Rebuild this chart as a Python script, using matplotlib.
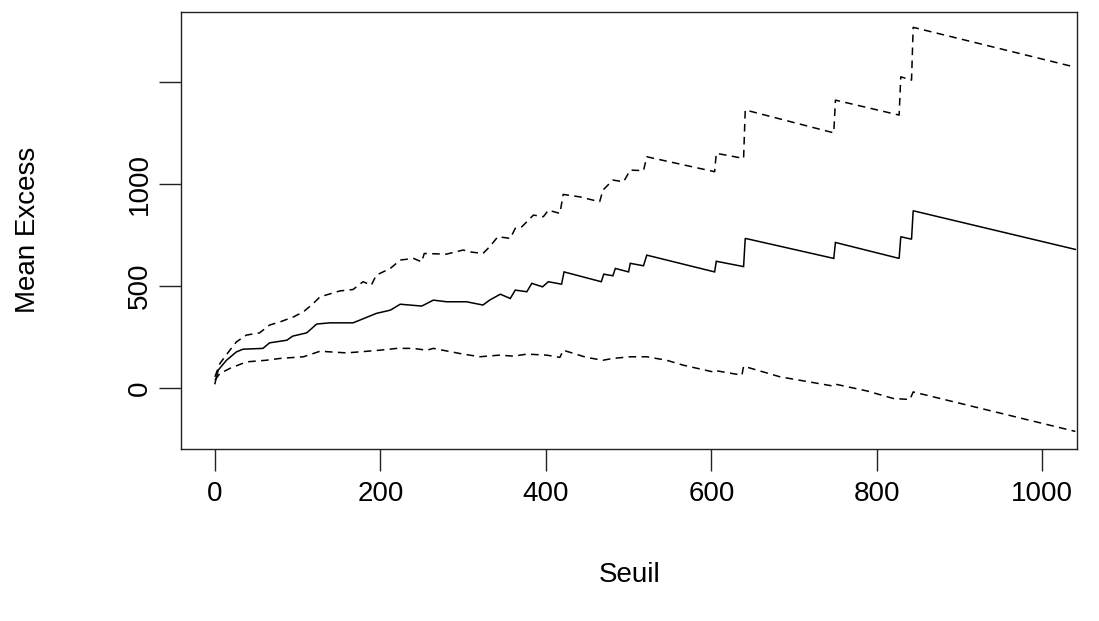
import matplotlib
matplotlib.use("Agg")
import matplotlib.pyplot as plt

plt.rcParams['font.family'] = ['Liberation Sans', 'DejaVu Sans']

# Mean excess (solid line): threshold, value
mean_u = [0, 4, 14, 26, 34, 58, 66, 87, 94, 111, 123, 139, 167, 175, 195, 212, 224,
          250, 264, 280, 304, 324, 332, 345, 357, 363, 377, 383, 396, 403, 419, 422,
          467, 470, 481, 484, 500, 502, 518, 522, 604, 606, 639, 641, 748, 750,
          827, 829, 842, 844, 1040]
mean_e = [24, 90, 138, 179, 192, 196, 223, 236, 256, 272, 315, 321, 321, 334, 367, 383, 412,
          403, 432, 424, 424, 408, 432, 461, 440, 481, 473, 514, 497, 522, 510, 570,
          522, 559, 551, 587, 570, 612, 600, 652, 570, 622, 596, 734, 636, 714,
          636, 742, 730, 869, 680]

# Upper confidence bound (dashed)
up_u = [0, 6, 18, 26, 38, 54, 66, 79, 95, 107, 119, 127, 151, 167, 179, 189, 195, 212, 224,
        240, 250, 253, 280, 300, 308, 324, 332, 342, 357, 363, 371, 377, 385, 397, 403, 417,
        421, 441, 465, 469, 481, 494, 502, 518, 522, 604, 606, 639, 641, 748, 750,
        827, 829, 842, 844, 1040]
up_e = [57, 122, 187, 228, 261, 272, 310, 326, 350, 375, 416, 448, 477, 484, 522, 505, 554, 587, 628,
        636, 619, 660, 657, 677, 668, 660, 693, 742, 734, 783, 791, 815, 848, 840, 872, 856,
        949, 937, 913, 970, 1019, 1011, 1068, 1065, 1133, 1060, 1150, 1125, 1362, 1250, 1410,
        1337, 1524, 1508, 1766, 1571]

# Lower confidence bound (dashed)
lo_u = [0, 6, 18, 38, 62, 79, 107, 127, 159, 175, 199, 220, 240, 256, 264, 296, 320, 344,
        361, 377, 401, 417, 421, 449, 469, 481, 502, 522, 546, 566, 602, 604, 637, 639,
        683, 747, 750, 788, 820, 840, 844, 1040]
lo_e = [41, 73, 98, 130, 138, 147, 155, 182, 174, 179, 187, 196, 196, 187, 196, 171, 155, 163,
        158, 168, 163, 152, 187, 152, 138, 147, 155, 155, 138, 114, 81, 88, 65, 109,
        57, 12, 21, -12, -49, -54, -17, -210]

x_ticks = [0, 200, 400, 600, 800, 1000]
y_ticks = [0, 500, 1000, 1500]
y_tick_labels = ['0', '500', '1000', '']

fig = plt.figure(figsize=(10.99, 6.21), dpi=100)
ax = fig.add_axes([181/1099, 1-449/621, (1077-181)/1099, (449-12)/621])

ax.plot(mean_u, mean_e, color='black', lw=1.1, solid_joinstyle='miter')
ax.plot(up_u, up_e, color='black', lw=1.1, dashes=(5, 3.5))
ax.plot(lo_u, lo_e, color='black', lw=1.1, dashes=(5, 3.5))

ax.set_xlim(-41, 1042)
ax.set_ylim(-296, 1841)
ax.set_xticks(x_ticks)
ax.set_xticklabels([str(t) for t in x_ticks])
ax.set_yticks(y_ticks)
ax.set_yticklabels(y_tick_labels, rotation=90, va='center')

for s in ax.spines.values():
    s.set_linewidth(1.0)
    s.set_color('#222222')
ax.tick_params(axis='both', direction='out', length=16, width=1.0, color='#222222',
               labelsize=20)
ax.tick_params(axis='x', pad=7)
ax.tick_params(axis='y', pad=4)

fig.text(630/1099, 1-575/621, 'Seuil', ha='center', va='center', fontsize=20)
fig.text(28/1099, 1-230/621, 'Mean Excess', ha='center', va='center', fontsize=20,
         rotation=90)

fig.savefig('out.png', dpi=100)
